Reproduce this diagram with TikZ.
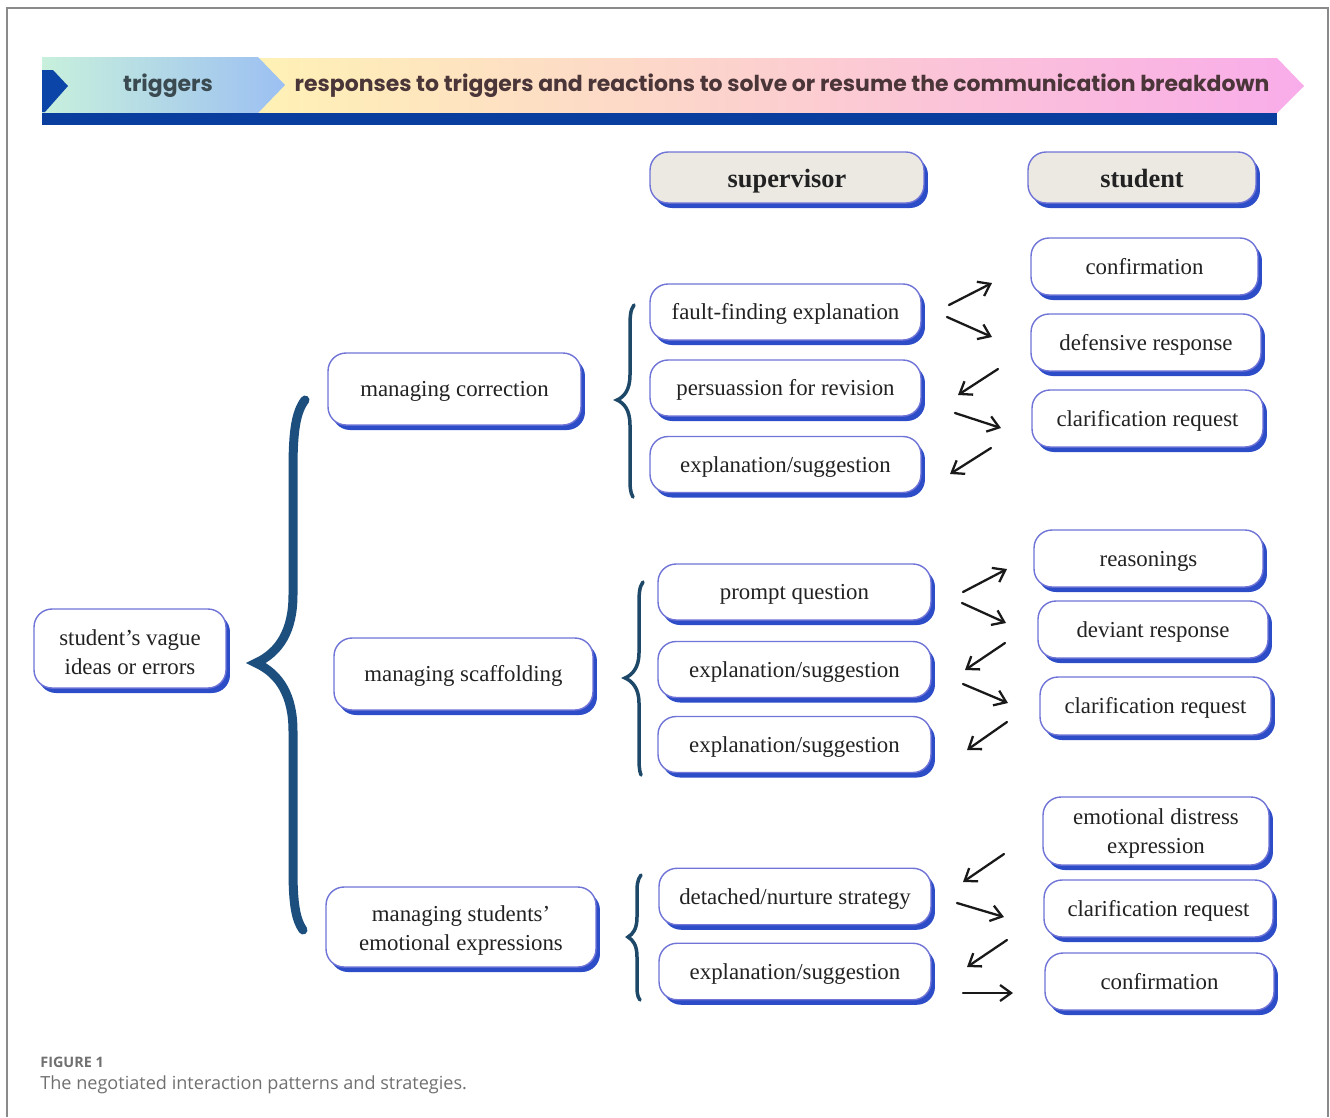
\documentclass[tikz,border=0pt]{standalone}
\usepackage{fontspec}
\setmainfont{Liberation Serif}
\newfontfamily\bannerfont{Poppins}
\newfontfamily\capfont{Open Sans}
\usetikzlibrary{shadows,arrows.meta}
\definecolor{boxline}{HTML}{7074D6}
\definecolor{boxshadow}{HTML}{2D4CC8}
\definecolor{hdrfill}{HTML}{ECE9E3}
\definecolor{bigbrace}{HTML}{1D4F7E}
\definecolor{smallbrace}{HTML}{1E4868}
\definecolor{mint}{HTML}{C8F0DC}
\definecolor{lblue}{HTML}{9CC0F2}
\definecolor{pyellow}{HTML}{FFF2B5}
\definecolor{ppeach}{HTML}{FCD2C8}
\definecolor{ppink}{HTML}{F9ACEA}
\definecolor{darkbar}{HTML}{0A3E9E}
\definecolor{darkchev}{HTML}{0B45A8}
\definecolor{trigtext}{HTML}{3A4A50}
\definecolor{resptext}{HTML}{4A3538}
\definecolor{capgray}{HTML}{707070}
\definecolor{framegray}{HTML}{8A8A8A}
\definecolor{boxtext}{HTML}{222222}
\begin{document}
\begin{tikzpicture}[x=0.02cm,y=-0.02cm,
  box/.style={draw=boxline, line width=0.8pt, fill=white, rounded corners=0.36cm,
    align=center, font=\fontsize{13}{16.4}\selectfont, text=boxtext, inner sep=0pt,
    drop shadow={shadow xshift=0.08cm, shadow yshift=-0.1cm, fill=boxshadow, opacity=1}},
  oneline/.style={text height=10.4pt, text depth=1.8pt},
  hdrbox/.style={box, fill=hdrfill, font=\bfseries\fontsize{15}{18}\selectfont, text height=12pt, text depth=0.2pt},
  supbox/.style={box, oneline, minimum width=5.44cm, minimum height=1.13cm},
  stubox/.style={box, minimum width=4.6cm, minimum height=1.14cm},
  harrow/.style={-{Straight Barb[length=0.22cm,width=0.32cm]}, line width=1.3pt, line cap=round, black!90},
  bigbr/.style={draw=bigbrace, line width=0.18cm, line cap=round},
  smallbr/.style={draw=smallbrace, line width=0.07cm, line cap=round}]
\useasboundingbox (0,0) rectangle (1330,1117);
% frame
\draw[framegray, line width=0.04cm] (7,1117) -- (7,8) -- (1328,8) -- (1328,1117);
% banner
\shade[left color=pyellow, middle color=ppeach, right color=ppink]
  (250,58) -- (1277,58) -- (1304,86) -- (1277,113) -- (250,113) -- cycle;
\shade[left color=mint, right color=lblue]
  (42,57) -- (258,57) -- (285,85) -- (258,113) -- (42,113) -- cycle;
\fill[darkchev] (42,70) -- (53,70) -- (68,86) -- (45,112) -- (42,112) -- cycle;
\fill[darkbar] (42,113) rectangle (1277,125);
\node[font=\bannerfont\bfseries\fontsize{12.5}{14}\selectfont, text=trigtext] (trig) at (168,86) {triggers};
\node[font=\bannerfont\bfseries\fontsize{12.5}{14}\selectfont, text=resptext] (resp) at (782,86) {responses to triggers and reactions to solve or resume the communication breakdown};
% headers
\node[hdrbox, minimum width=5.48cm, minimum height=1.02cm] (sup) at (787,177.5) {supervisor};
\node[hdrbox, minimum width=4.56cm, minimum height=1.02cm] (stu) at (1142,177.5) {student};
% left
\node[box, minimum width=3.84cm, minimum height=1.58cm] (vague) at (130,648.5) {\rule{0pt}{13pt}student’s vague\\ideas or errors};
\node[box, oneline, minimum width=5.06cm, minimum height=1.44cm] (mcorr) at (454.5,389) {managing correction};
\node[box, oneline, minimum width=5.18cm, minimum height=1.44cm] (mscaf) at (463.5,674) {managing scaffolding};
\node[box, minimum width=5.4cm, minimum height=1.6cm] (memo) at (461,927) {\rule{0pt}{13pt}managing students’\\emotional expressions};
% supervisor column
\node[supbox, minimum width=5.42cm, minimum height=1.12cm] (fault) at (785.5,312) {fault-finding explanation};
\node[supbox, minimum width=5.42cm, minimum height=1.12cm] (pers) at (785.5,388) {persuassion for revision};
\node[supbox, minimum width=5.42cm, minimum height=1.12cm] (expa) at (785.5,464.5) {explanation/suggestion};
\node[supbox, minimum width=5.46cm, minimum height=1.12cm] (prompt) at (794.5,592) {prompt question};
\node[supbox, minimum width=5.46cm, minimum height=1.12cm] (expb) at (794.5,669.5) {explanation/suggestion};
\node[supbox, minimum width=5.46cm, minimum height=1.12cm] (expc) at (794.5,744.5) {explanation/suggestion};
\node[supbox] (detach) at (795,896.5) {detached/nurture strategy};
\node[supbox] (expd) at (795,971.5) {explanation/suggestion};
% student column
\node[stubox, oneline, minimum width=4.54cm] (confa) at (1144.5,266.5) {confirmation};
\node[stubox, oneline] (defen) at (1146,342.5) {defensive response};
\node[stubox, oneline, minimum width=4.62cm] (clara) at (1147.5,418.5) {clarification request};
\node[stubox, oneline, minimum width=4.58cm] (reason) at (1148.5,558.5) {reasonings};
\node[stubox, oneline] (deviant) at (1153,629.5) {deviant response};
\node[stubox, oneline, minimum width=4.62cm, minimum height=1.16cm] (clarb) at (1155.5,706) {clarification request};
\node[stubox, minimum width=4.52cm, minimum height=1.36cm] (distress) at (1156,831) {\rule{0pt}{11.5pt}emotional distress\\expression};
\node[stubox, oneline, minimum width=4.58cm] (clarc) at (1158.5,908.5) {clarification request};
\node[stubox, oneline, minimum width=4.58cm] (confb) at (1159.5,981.5) {confirmation};
% braces
\draw[bigbr] (305,400) .. controls (296,412) and (293,430) .. (293,470) -- (293,595)
  .. controls (293,630) and (280,652) .. (256,663)
  .. controls (280,674) and (293,696) .. (293,731) -- (293,870)
  .. controls (293,905) and (296,920) .. (303,930);
\draw[smallbr] (634,305) .. controls (630,310) and (630,318) .. (630,330) -- (630,375)
  .. controls (630,390) and (624,397) .. (617,400)
  .. controls (624,403) and (630,410) .. (630,425) -- (630,475)
  .. controls (630,487) and (630,492) .. (633,497);
\draw[smallbr] (643,582) .. controls (639,587) and (639,595) .. (639,607) -- (639,653)
  .. controls (639,668) and (632,675) .. (625,678)
  .. controls (632,681) and (639,688) .. (639,703) -- (639,752)
  .. controls (639,764) and (639,770) .. (641,775);
\draw[smallbr] (641,875) .. controls (637,880) and (637,886) .. (637,895) -- (637,917)
  .. controls (637,929) and (633,934) .. (628,937)
  .. controls (633,940) and (637,945) .. (637,957) -- (637,982)
  .. controls (637,992) and (637,996) .. (640,1000);
% arrows
\foreach \n/\xa/\ya/\xb/\yb in {
  a1/949/305/992/283, a2/947/317/992/337, a3/998/369/958/395, a4/955/413/1001/428, a5/991/448/950/474,
  b1/963/592/1007/569, b2/962/603/1006/623, b3/1005/643/965/670, b4/963/684/1008/703, b5/1007/722/967/750,
  c1/1004/854/963/882, c2/957/903/1004/917, c3/1007/940/967/967, c4/963/993/1013/993}{
  \coordinate (\n s) at (\xa,\ya);
  \coordinate (\n e) at (\xb,\yb);
  \draw[harrow] (\n s) -- (\n e);
}
% caption
\node[anchor=west, inner sep=0pt, font=\capfont\bfseries\fontsize{8.2}{10}\selectfont, text=capgray] (figlabel) at (40,1062) {FIGURE 1};
\node[anchor=west, inner sep=0pt, font=\capfont\fontsize{10.3}{12}\selectfont, text=capgray] (caption) at (40,1085) {The negotiated interaction patterns and strategies.};
\end{tikzpicture}
\end{document}
